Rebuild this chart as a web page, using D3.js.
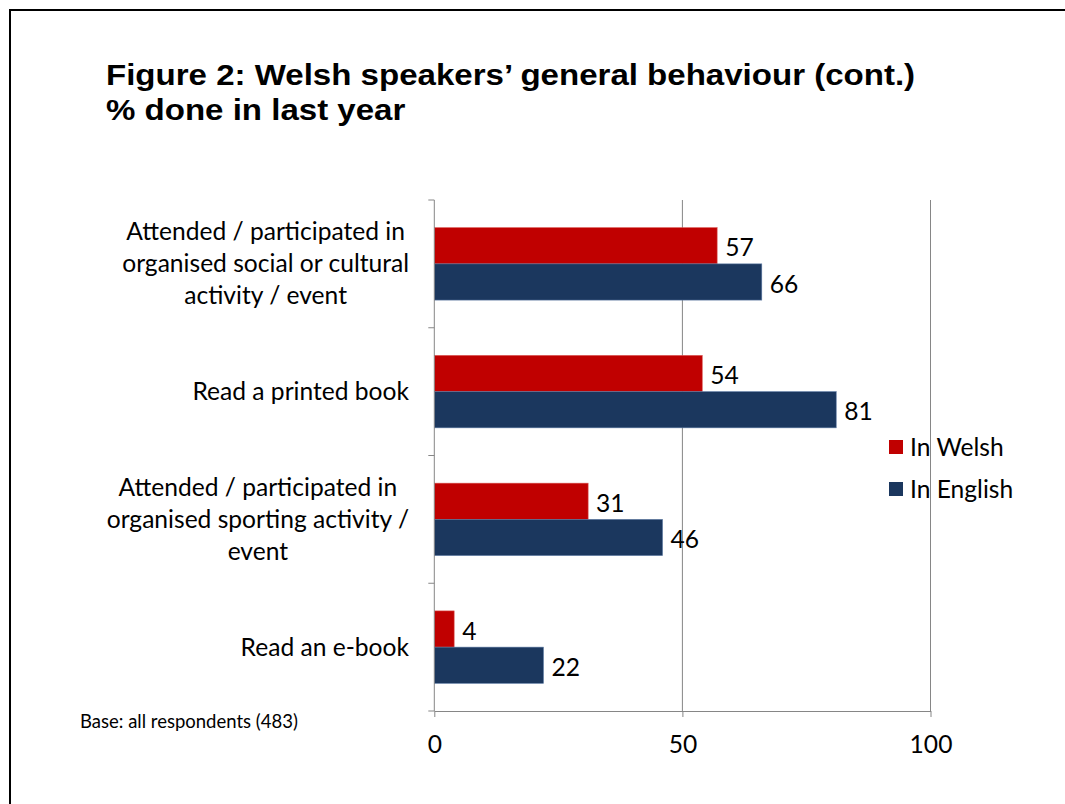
<!DOCTYPE html>
<html>
<head>
<meta charset="utf-8">
<script src="https://cdn.jsdelivr.net/npm/d3@7"></script>
<style>
  html, body { margin: 0; padding: 0; background: #fff; overflow: hidden; width: 1065px; height: 804px; }
  svg { display: block; }
</style>
</head>
<body>
<svg id="chart" width="1065" height="804"></svg>
<script>
const titleLines = ["Figure 2: Welsh speakers\u2019 general behaviour (cont.)", "% done in last year"];
const categories = [
  ["Attended / participated in", "organised social or cultural", "activity / event"],
  ["Read a printed book"],
  ["Attended / participated in", "organised sporting activity /", "event"],
  ["Read an e-book"]
];
const seriesNames = ["In Welsh", "In English"];
const welshValues = [57, 54, 31, 4];
const englishValues = [66, 81, 46, 22];
const xTicks = [0, 50, 100];
const baseNote = "Base: all respondents (483)";

const colors = { "In Welsh": "#C00000", "In English": "#1B375E" };
const strokes = { "In Welsh": "#D9534F", "In English": "#5E7BA3" };
const gridColor = "#868686";
const labelFont = "Lato, 'Open Sans', sans-serif";
const fs = 24.6;

const svg = d3.select("#chart");

svg.append("rect").attr("x", 0).attr("y", 0).attr("width", 1065).attr("height", 804).attr("fill", "#fff");

// Border (top and left edges only; frame continues past the picture)
svg.append("line").attr("x1", 10).attr("x2", 1065).attr("y1", 10).attr("y2", 10)
  .attr("stroke", "#000").attr("stroke-width", 2);
svg.append("line").attr("x1", 10).attr("x2", 10).attr("y1", 9).attr("y2", 804)
  .attr("stroke", "#000").attr("stroke-width", 2);

// Title
svg.append("g").attr("transform", "translate(106,0) scale(1.14,1)")
  .selectAll("text").data(titleLines).join("text")
  .attr("x", 0).attr("y", (d, i) => 85 + i * 35)
  .attr("font-family", "'Liberation Sans', Arial, sans-serif")
  .attr("font-weight", "bold").attr("font-size", 29).attr("fill", "#000")
  .text(d => d);

const catKeys = categories.map(c => c.join(" "));
const x = d3.scaleLinear().domain([0, 100]).range([434.3, 930.5]);
const y = d3.scaleBand().domain(catKeys).range([200, 711]).padding(0);
const ySub = d3.scaleBand().domain(seriesNames).range([0, y.bandwidth()]).paddingInner(0).paddingOuter(0.764);

const rows = catKeys.map((k, i) => ({ key: k, lines: categories[i], values: [
  { s: "In Welsh", v: welshValues[i] }, { s: "In English", v: englishValues[i] }
]}));

// Legend (drawn beneath gridlines)
const legend = svg.append("g");
seriesNames.forEach((s, i) => {
  const cy = 447 + i * 42;
  legend.append("rect").attr("x", 889).attr("y", cy - 7).attr("width", 14).attr("height", 14).attr("fill", colors[s]);
  legend.append("text").attr("x", 910).attr("y", cy).attr("dy", "0.35em")
    .attr("font-family", labelFont).attr("font-size", fs).attr("fill", "#000").text(s);
});

// Gridlines
svg.append("g").selectAll("line").data(xTicks.filter(t => t > 0)).join("line")
  .attr("x1", d => x(d)).attr("x2", d => x(d)).attr("y1", 200).attr("y2", 711)
  .attr("stroke", gridColor).attr("stroke-width", 1);

// Bars
const groups = svg.append("g").selectAll("g").data(rows).join("g")
  .attr("transform", d => `translate(0,${y(d.key)})`);
groups.selectAll("rect").data(d => d.values).join("rect")
  .attr("x", x(0)).attr("y", d => ySub(d.s))
  .attr("width", d => x(d.v) - x(0)).attr("height", ySub.bandwidth())
  .attr("fill", d => colors[d.s]).attr("stroke", d => strokes[d.s]).attr("stroke-width", 0.6);
groups.selectAll("text").data(d => d.values).join("text")
  .attr("x", d => x(d.v) + 8).attr("y", d => ySub(d.s) + ySub.bandwidth() / 2 + 2).attr("dy", "0.35em")
  .attr("font-family", labelFont).attr("font-size", fs).attr("fill", "#000")
  .text(d => d.v);

// X axis
const xAxis = svg.append("g").attr("transform", "translate(0,711)")
  .call(d3.axisBottom(x).tickValues(xTicks).tickSize(6).tickSizeOuter(0).tickPadding(19));
xAxis.select(".domain").attr("stroke", gridColor);
xAxis.selectAll(".tick line").attr("stroke", gridColor);
xAxis.selectAll(".tick text").attr("font-family", labelFont).attr("font-size", fs).attr("fill", "#000");

// Y axis (line + boundary ticks)
const yAxis = svg.append("g");
yAxis.append("line").attr("x1", x(0)).attr("x2", x(0)).attr("y1", 200).attr("y2", 711).attr("stroke", gridColor);
const bounds = catKeys.map(k => y(k)).concat([y.range()[1]]);
yAxis.selectAll("line.tk").data(bounds).join("line").attr("class", "tk")
  .attr("x1", x(0) - 6).attr("x2", x(0)).attr("y1", d => d).attr("y2", d => d).attr("stroke", gridColor);

// Category labels: block right-aligned, lines centered within block
const labelRight = 409;
const lineH = 32;
rows.forEach(r => {
  const g = svg.append("g");
  const cy = y(r.key) + y.bandwidth() / 2;
  const n = r.lines.length;
  const texts = g.selectAll("text").data(r.lines).join("text")
    .attr("y", (d, i) => cy + (i - (n - 1) / 2) * lineH).attr("dy", "0.35em")
    .attr("font-family", labelFont).attr("font-size", fs).attr("fill", "#000")
    .attr("text-anchor", "middle").text(d => d);
  let maxW = 0;
  texts.each(function () { maxW = Math.max(maxW, this.getComputedTextLength()); });
  texts.attr("x", labelRight - maxW / 2);
});

// Base note
svg.append("text").attr("x", 80).attr("y", 722).attr("dy", "0.35em")
  .attr("font-family", labelFont).attr("font-size", 18.5).attr("fill", "#000").text(baseNote);
</script>
</body>
</html>
